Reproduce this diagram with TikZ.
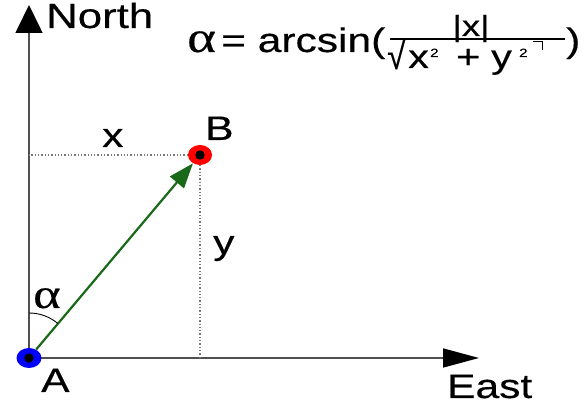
\documentclass[tikz,border=0pt]{standalone}
\usepackage{fontspec}
\setmainfont{Liberation Sans}[FakeStretch=1.25,FakeBold=0.4]
\newfontfamily\grfont{Liberation Serif}[FakeStretch=1.25,FakeBold=0.4]
\usetikzlibrary{arrows.meta,shapes.geometric,calc}
\definecolor{axisgray}{RGB}{80,80,80}
\definecolor{dotgray}{RGB}{120,120,120}
\definecolor{vecgreen}{RGB}{25,105,25}
\tikzset{
  lbl/.style={inner sep=0pt, anchor=base west, font=\fontsize{34}{34}\selectfont},
  axis/.style={draw=axisgray, line width=1.6pt},
  guide/.style={draw=dotgray, line width=1.3pt, dotted},
  pointdot/.style={ellipse, minimum width=25pt, minimum height=20pt, inner sep=0pt},
}
\begin{document}
\begin{tikzpicture}[x=1pt,y=1pt]
\useasboundingbox (0,0) rectangle (587,406);
\coordinate (a) at (29,48);
\coordinate (N) at (29,401);
\coordinate (E) at (479,48);
% axes
\draw[axis, -{Triangle[length=28pt,width=27pt,color=black]}] (a) -- (N);
\draw[axis, -{Triangle[length=36pt,width=19pt,color=black]}] (a) -- (E);
% points
\node[pointdot, fill=blue] (A) at (a) {};
\fill (A.center) circle[radius=4.7pt];
\node[pointdot, fill=red, minimum width=24pt] (B) at (200,251) {};
\fill (B.center) circle[radius=4.7pt];
% guides
\draw[guide] (B) -- (a |- B);
\draw[guide] (B) -- (B |- a);
% vector
\draw[vecgreen, line width=2.2pt, -{Triangle[length=25pt,width=18pt]}] (A) -- (B);
% angle arc
\coordinate (arcstart) at ($(a)+(0,45)$);
\draw[line width=0.9pt] (arcstart) arc[start angle=90, end angle=50, radius=45pt];
% labels
\node[lbl, font=\fontsize{35}{35}\selectfont] (lN) at (46,378) {North};
\node[lbl] (lE) at (447,8) {East};
\node[lbl] (lB) at (205,266) {B};
\node[lbl] (lA) at (41,14) {A};
\node[lbl] (lx) at (102,259) {x};
\node[lbl] (ly) at (213,152) {y};
\node[lbl, font=\fontsize{42}{42}\grfont] (lalpha) at (33,98) {α};
% formula
\node[lbl, font=\fontsize{44}{44}\grfont] (fa) at (187,354) {α};
\node[lbl, font=\fontsize{34}{34}\selectfont] (feq) at (221,354) {= arcsin(};
\node[inner sep=0pt, anchor=base, font=\fontsize{29}{29}\selectfont] (fnum) at (471,370) {|x|};
\coordinate (barL) at (390,367);
\coordinate (barR) at (565,367);
\draw[line width=1.5pt] (barL) -- (barR);
\node[lbl, font=\fontsize{34}{34}\selectfont] (fsq) at (387,337) {\scalebox{0.78}[1.1]{√}};
\node[lbl, font=\fontsize{33}{33}\selectfont] (fx) at (408,338) {x};
\node[lbl, font=\fontsize{12}{12}\selectfont] (fx2) at (430,349) {2};
\node[lbl, font=\fontsize{33}{33}\selectfont] (fplus) at (456,338) {+};
\node[lbl, font=\fontsize{33}{33}\selectfont] (fy) at (491,338) {y};
\node[lbl, font=\fontsize{12}{12}\selectfont] (fy2) at (519,349) {2};
\coordinate (t1) at (533,364);
\coordinate (t2) at (542,364);
\coordinate (t3) at (542,356);
\draw[line width=1pt] (t1) -- (t2) -- (t3);
\node[lbl, font=\fontsize{34}{34}\selectfont] (fpar) at (566,354) {)};
\end{tikzpicture}
\end{document}
